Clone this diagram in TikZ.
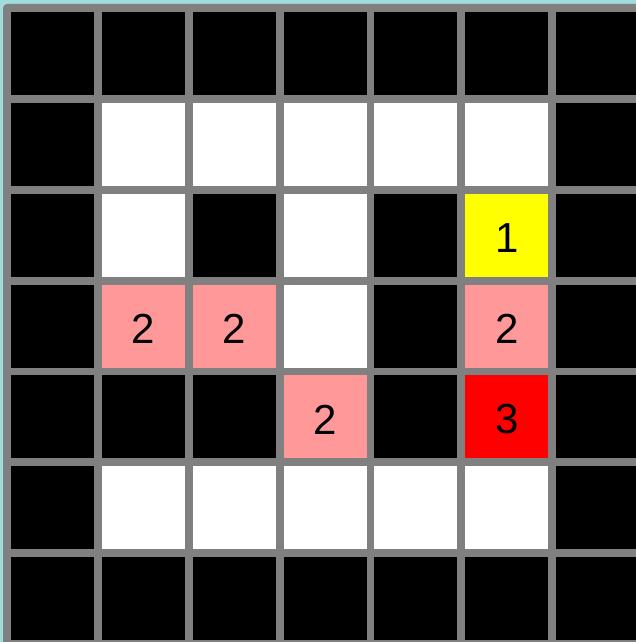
\documentclass[tikz,border=0pt]{standalone}
\usepackage{fontspec}
\setmainfont{Liberation Sans}
\definecolor{bgcyan}{RGB}{160,220,220}
\definecolor{gridgray}{RGB}{128,128,128}
\definecolor{pinkc}{RGB}{255,153,153}
\definecolor{yellowc}{RGB}{255,255,0}
\definecolor{redc}{RGB}{255,0,0}
\begin{document}
\begin{tikzpicture}[x=1pt,y=-1pt,
  cellbox/.style={draw=none,minimum width=83pt,minimum height=83pt,inner sep=0pt,anchor=north west},
  blk/.style={cellbox,fill=black},
  wht/.style={cellbox,fill=white},
  pnk/.style={cellbox,fill=pinkc},
  ylw/.style={cellbox,fill=yellowc},
  rd/.style={cellbox,fill=redc},
  num/.style={inner sep=0pt,yshift=-2.5pt,font=\fontsize{42}{42}\selectfont}]
\useasboundingbox (0,0) rectangle (636,642);
\clip (0,0) rectangle (636,642);
\fill[bgcyan] (0,0) rectangle (636,642);
\fill[gridgray,rounded corners=4pt] (3,4) rectangle (660,670);
\foreach \r/\row in {0/{blk,blk,blk,blk,blk,blk,blk},
                     1/{blk,wht,wht,wht,wht,wht,blk},
                     2/{blk,wht,blk,wht,blk,ylw,blk},
                     3/{blk,pnk,pnk,wht,blk,pnk,blk},
                     4/{blk,blk,blk,pnk,blk,rd,blk},
                     5/{blk,wht,wht,wht,wht,wht,blk},
                     6/{blk,blk,blk,blk,blk,blk,blk}}{
  \foreach \s [count=\c from 0] in \row {
    \node[\s] (cell-\r-\c) at ({11+90.8*\c},{12+90.8*\r}) {};
  }
}
\node[num] (n1) at (cell-2-5.center) {1};
\node[num] (n2) at (cell-3-1.center) {2};
\node[num] (n3) at (cell-3-2.center) {2};
\node[num] (n4) at (cell-3-5.center) {2};
\node[num] (n5) at (cell-4-3.center) {2};
\node[num] (n6) at (cell-4-5.center) {3};
\end{tikzpicture}
\end{document}
